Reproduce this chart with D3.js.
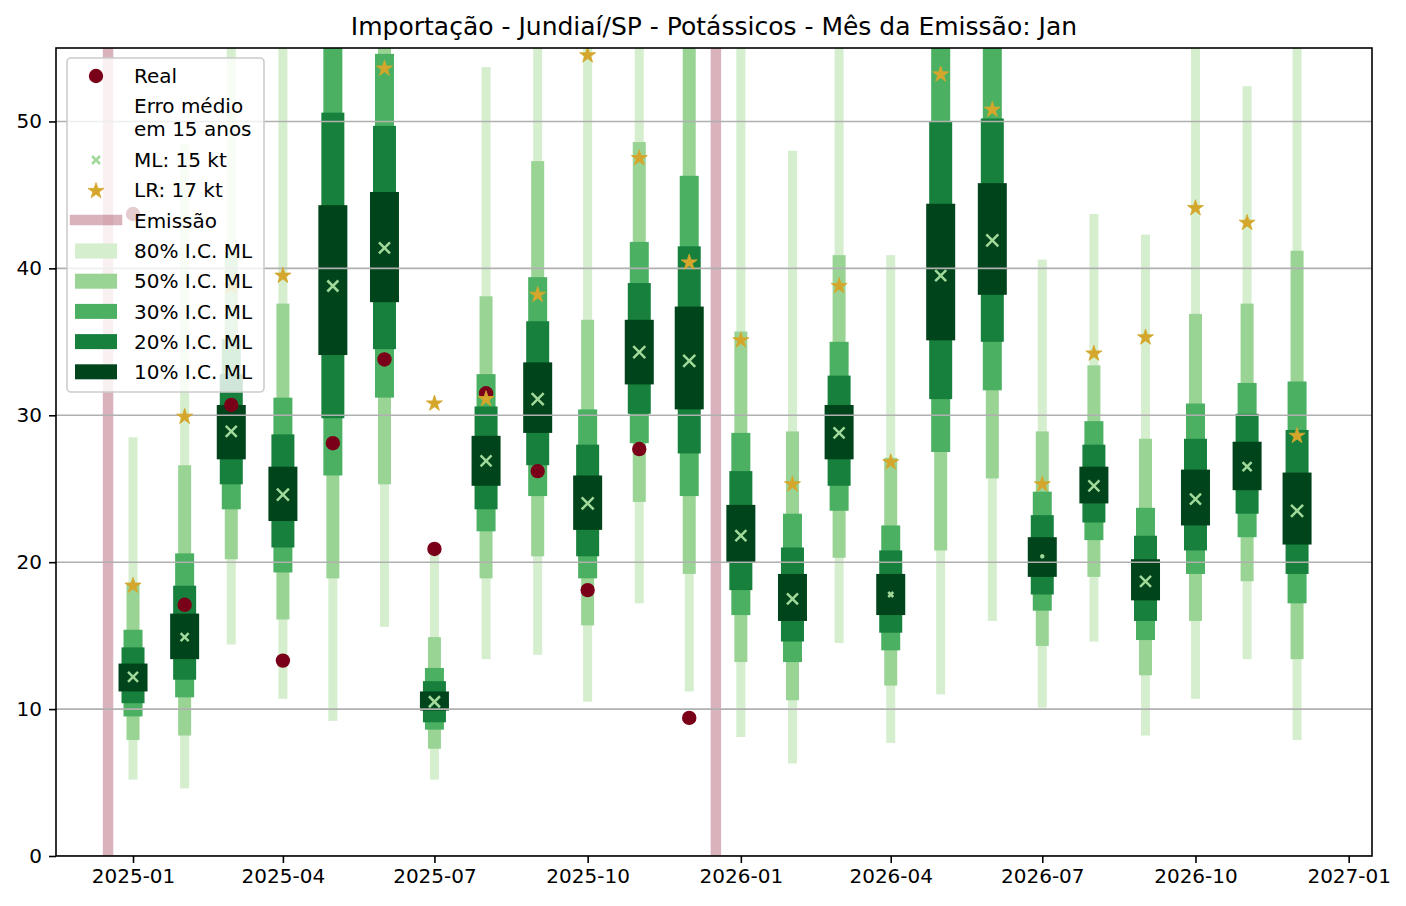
<!DOCTYPE html>
<html>
<head>
<meta charset="utf-8">
<script src="https://cdn.jsdelivr.net/npm/d3@7"></script>
<style>
  body { margin: 0; background: #fff; }
  svg text { font-family: "DejaVu Sans", sans-serif; fill: #000; }
</style>
</head>
<body>
<svg id="chart"></svg>
<script>
// monthly forecast points (1st of each month)
var months = [
    '2025-01-01', '2025-02-01', '2025-03-01', '2025-04-01', '2025-05-01', '2025-06-01',
    '2025-07-01', '2025-08-01', '2025-09-01', '2025-10-01', '2025-11-01', '2025-12-01',
    '2026-01-01', '2026-02-01', '2026-03-01', '2026-04-01', '2026-05-01', '2026-06-01',
    '2026-07-01', '2026-08-01', '2026-09-01', '2026-10-01', '2026-11-01', '2026-12-01'
];
// confidence intervals of the ML model (kt)
var ci80Lo = [5.2, 4.6, 14.4, 10.7, 9.2, 15.6, 5.2, 13.4, 13.7, 10.5, 17.2, 11.2, 8.1, 6.3, 14.5, 7.7, 11.0, 16.0, 10.1, 14.6, 8.2, 10.7, 13.4, 7.9];
var ci80Hi = [28.5, 48.5, 60, 62, 72, 68, 20.8, 53.7, 62, 63, 62, 66, 60, 48.0, 60, 40.9, 70, 68, 40.6, 43.7, 42.3, 56, 52.4, 62];
var ci50Lo = [7.9, 8.2, 20.2, 16.1, 18.9, 25.3, 7.3, 18.9, 20.4, 15.7, 24.1, 19.2, 13.2, 10.6, 20.3, 11.6, 20.8, 25.7, 14.3, 19.0, 12.3, 16.0, 18.7, 13.4];
var ci50Hi = [18.6, 26.6, 41.1, 37.6, 64, 57, 14.9, 38.1, 47.3, 36.5, 48.6, 57, 35.7, 28.9, 40.9, 27.1, 62, 61, 28.9, 33.4, 28.4, 36.9, 37.6, 41.2];
var ci30Lo = [9.5, 10.8, 23.6, 19.3, 25.9, 31.2, 8.6, 22.1, 24.5, 18.9, 28.1, 24.5, 16.4, 13.2, 23.5, 14.0, 27.5, 31.7, 16.7, 21.5, 14.7, 19.2, 21.7, 17.2];
var ci30Hi = [15.4, 20.6, 35.2, 31.2, 57, 54.6, 12.8, 32.8, 39.4, 30.4, 41.8, 46.3, 28.8, 23.3, 35.0, 22.5, 57, 56, 24.8, 29.6, 23.7, 30.8, 32.2, 32.3];
var ci20Lo = [10.4, 12.0, 25.3, 21.0, 29.8, 34.5, 9.1, 23.6, 26.6, 20.4, 30.1, 27.4, 18.1, 14.6, 25.2, 15.2, 31.1, 35.0, 17.8, 22.7, 16.0, 20.8, 23.3, 19.2];
var ci20Hi = [14.2, 18.4, 32.8, 28.7, 50.6, 49.7, 11.9, 30.6, 36.4, 28.0, 39.0, 41.5, 26.2, 21.0, 32.7, 20.8, 50.0, 50.2, 23.2, 28.0, 21.8, 28.4, 30.1, 29.0];
var ci10Lo = [11.2, 13.4, 27.0, 22.8, 34.1, 37.7, 9.9, 25.2, 28.8, 22.2, 32.1, 30.4, 20.0, 16.0, 27.0, 16.4, 35.1, 38.2, 19.0, 24.0, 17.4, 22.5, 24.9, 21.2];
var ci10Hi = [13.1, 16.5, 30.7, 26.5, 44.3, 45.2, 11.2, 28.6, 33.6, 25.9, 36.5, 37.4, 23.9, 19.2, 30.7, 19.2, 44.4, 45.8, 21.7, 26.5, 20.2, 26.3, 28.2, 26.1];
// point forecasts
var mlValues = [12.2, 14.9, 28.9, 24.6, 38.8, 41.4, 10.5, 26.9, 31.1, 24.0, 34.3, 33.7, 21.8, 17.5, 28.8, 17.8, 39.5, 41.9, 20.4, 25.2, 18.7, 24.3, 26.5, 23.5];
var mlMarkerSize = [12, 10, 13, 14, 13, 13, 13, 13, 14, 14, 14, 14, 13, 13, 13, 7, 13, 14, 5, 13, 13, 13, 11, 14];
var lrValues = [18.4, 29.9, 38.8, 39.5, 58, 53.6, 30.8, 31.1, 38.2, 54.5, 47.5, 40.4, 35.1, 25.3, 38.8, 26.8, 53.2, 50.8, 25.3, 34.2, 35.3, 44.1, 43.1, 28.6];
// observed values (only 2025)
var realValues = [43.7, 17.1, 30.7, 13.3, 28.1, 33.8, 20.9, 31.5, 26.2, 18.1, 27.7, 9.4];
// issue dates
var emissionDates = ['2024-12-17', '2025-12-17'];
var yTicks = [0, 10, 20, 30, 40, 50];
var xTickDates = ['2025-01-01', '2025-04-01', '2025-07-01', '2025-10-01', '2026-01-01', '2026-04-01', '2026-07-01', '2026-10-01', '2027-01-01'];
var ciLabels = ['80% I.C. ML', '50% I.C. ML', '30% I.C. ML', '20% I.C. ML', '10% I.C. ML'];
var titleText = 'Importação - Jundiaí/SP - Potássicos - Mês da Emissão: Jan';

var $svg = {width: 1406, height: 906};
var $plot = {left: 56, right: 1372, top: 48, bottom: 856};
var $colors = {
    ci: ['#d4eece', '#99d494', '#4bb062', '#17803d', '#00441b'],
    ml: '#a1d99b',
    lr: '#d4a72c',
    real: '#7a0019',
    emission: '#80001f'
};
var $barWidths = [9, 13, 19, 23, 29];

function init () {
    var parse = d3.utcParse('%Y-%m-%d');
    var dates = months.map(parse);
    var levels = [
        [ci80Lo, ci80Hi], [ci50Lo, ci50Hi], [ci30Lo, ci30Hi], [ci20Lo, ci20Hi], [ci10Lo, ci10Hi]
    ];

    var x = d3.scaleUtc()
        .domain([new Date(Date.UTC(2024, 10, 15, 18)), new Date(Date.UTC(2027, 0, 15, 0))])
        .range([$plot.left, $plot.right]);
    var y = d3.scaleLinear()
        .domain([0, 55])
        .range([$plot.bottom, $plot.top]);

    var svg = (
        d3.select('svg#chart')
        .attr('width', $svg.width)
        .attr('height', $svg.height)
    );

    svg.append('defs').append('clipPath').attr('id', 'plotclip')
        .append('rect')
        .attr('x', $plot.left).attr('y', $plot.top)
        .attr('width', $plot.right - $plot.left)
        .attr('height', $plot.bottom - $plot.top);

    var plot = svg.append('g').attr('clip-path', 'url(#plotclip)');

    // issue date markers
    plot.selectAll('line.emission')
        .data(emissionDates.map(parse))
        .enter().append('line')
        .attr('x1', d => x(d)).attr('x2', d => x(d))
        .attr('y1', $plot.top).attr('y2', $plot.bottom)
        .attr('stroke', $colors.emission)
        .attr('stroke-opacity', 0.3)
        .attr('stroke-width', 10.5);

    // confidence bars, widest interval first
    levels.forEach((lv, i) => {
        plot.selectAll('rect.ci' + i)
            .data(dates)
            .enter().append('rect')
            .attr('x', d => x(d) - $barWidths[i] / 2)
            .attr('y', (d, j) => y(lv[1][j]))
            .attr('width', $barWidths[i])
            .attr('height', (d, j) => y(lv[0][j]) - y(lv[1][j]))
            .attr('fill', $colors.ci[i]);
    });

    // grid
    plot.selectAll('line.grid')
        .data(yTicks)
        .enter().append('line')
        .attr('x1', $plot.left).attr('x2', $plot.right)
        .attr('y1', d => y(d)).attr('y2', d => y(d))
        .attr('stroke', '#b0b0b0')
        .attr('stroke-width', 1.6);

    // ML median
    plot.selectAll('path.ml')
        .data(dates)
        .enter().append('path')
        .attr('transform', (d, j) => `translate(${x(d)},${y(mlValues[j])})`)
        .attr('d', (d, j) => crossPath(mlMarkerSize[j]))
        .attr('stroke', $colors.ml)
        .attr('stroke-width', 2.5)
        .attr('fill', 'none');

    // observed
    plot.selectAll('circle.real')
        .data(realValues)
        .enter().append('circle')
        .attr('cx', (d, j) => x(dates[j]))
        .attr('cy', d => y(d))
        .attr('r', 7.2)
        .attr('fill', $colors.real);

    // LR forecast
    var star = d3.symbol().type(d3.symbolStar).size(80);
    plot.selectAll('path.lr')
        .data(lrValues)
        .enter().append('path')
        .attr('transform', (d, j) => `translate(${x(dates[j])},${y(d)})`)
        .attr('d', star())
        .attr('fill', $colors.lr)
        .attr('stroke', $colors.lr)
        .attr('stroke-width', 0.8)
        .attr('stroke-linejoin', 'round');

    // axes
    var xAxis = d3.axisBottom(x)
        .tickValues(xTickDates.map(parse))
        .tickFormat(d3.utcFormat('%Y-%m'))
        .tickSize(7).tickPadding(6);
    var yAxis = d3.axisLeft(y)
        .tickValues(yTicks)
        .tickSize(7).tickPadding(7);

    styleAxis(svg.append('g').attr('transform', `translate(0,${$plot.bottom})`).call(xAxis));
    styleAxis(svg.append('g').attr('transform', `translate(${$plot.left},0)`).call(yAxis));

    svg.append('rect')
        .attr('x', $plot.left).attr('y', $plot.top)
        .attr('width', $plot.right - $plot.left)
        .attr('height', $plot.bottom - $plot.top)
        .attr('fill', 'none')
        .attr('stroke', '#000')
        .attr('stroke-width', 1.6);

    svg.append('text')
        .attr('x', ($plot.left + $plot.right) / 2)
        .attr('y', 35)
        .attr('text-anchor', 'middle')
        .style('font-size', '25px')
        .text(titleText);

    makeLegend(svg, star);
}

function crossPath (size) {
    var h = Math.max((size - 2) / 2, 0.8);
    return `M${-h},${-h}L${h},${h}M${-h},${h}L${h},${-h}`;
}

function styleAxis (g) {
    g.select('.domain').remove();
    g.selectAll('.tick line').attr('stroke', '#000').attr('stroke-width', 1.6);
    g.selectAll('.tick text').style('font-size', '20px').attr('fill', '#000');
}

function makeLegend (svg, star) {
    var lg = svg.append('g');
    var handleX = 96;
    var textX = 134;

    lg.append('rect')
        .attr('x', 67).attr('y', 58)
        .attr('width', 197).attr('height', 334)
        .attr('rx', 4)
        .attr('fill', '#fff').attr('fill-opacity', 0.8)
        .attr('stroke', '#cccccc').attr('stroke-width', 1.6);

    var label = (ty, txt) => lg.append('text')
        .attr('x', textX).attr('y', ty).attr('dy', '0.36em')
        .style('font-size', '20px')
        .text(txt);

    lg.append('circle').attr('cx', handleX).attr('cy', 76).attr('r', 7.2).attr('fill', $colors.real);
    label(76, 'Real');

    label(106, 'Erro médio');
    label(129, 'em 15 anos');

    lg.append('path')
        .attr('transform', `translate(${handleX},160)`)
        .attr('d', crossPath(10))
        .attr('stroke', $colors.ml).attr('stroke-width', 2.5).attr('fill', 'none');
    label(160, 'ML: 15 kt');

    lg.append('path')
        .attr('transform', `translate(${handleX},191)`)
        .attr('d', star())
        .attr('fill', $colors.lr)
        .attr('stroke', $colors.lr).attr('stroke-width', 0.8).attr('stroke-linejoin', 'round');
    label(190, 'LR: 17 kt');

    lg.append('line')
        .attr('x1', 75).attr('x2', 117).attr('y1', 220).attr('y2', 220)
        .attr('stroke', $colors.emission).attr('stroke-opacity', 0.3)
        .attr('stroke-width', 10.5).attr('stroke-linecap', 'square');
    label(221, 'Emissão');

    ciLabels.forEach((txt, i) => {
        var ry = 251 + i * 30.2;
        lg.append('rect')
            .attr('x', 75).attr('y', ry - 7.5)
            .attr('width', 42).attr('height', 15)
            .attr('fill', $colors.ci[i]);
        label(ry, txt);
    });
}

init();
</script>
</body>
</html>
